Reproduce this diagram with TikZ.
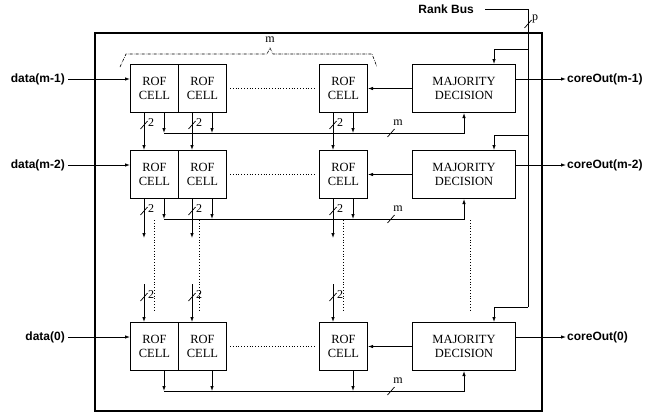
\documentclass[tikz,border=0pt]{standalone}
\usepackage{fontspec}
\setmainfont{Liberation Serif}
\newfontfamily\lsans{Liberation Sans}
\usetikzlibrary{arrows.meta,calc}
\begin{document}
\begin{tikzpicture}[x=1pt,y=-1pt,
  box/.style={draw,line width=1pt,inner sep=0,anchor=north west,align=center,font=\fontsize{12.5}{14}\selectfont},
  cellbox/.style={box,minimum width=48pt,minimum height=48pt},
  majbox/.style={box,minimum width=103pt,minimum height=48pt},
  io/.style={font=\lsans\bfseries\fontsize{12}{14}\selectfont,inner sep=0},
  wire/.style={line width=0.8pt},
  arr/.style={wire,-{Latex[length=5pt,width=3.5pt]}},
  dotline/.style={line width=0.6pt,dash pattern=on 0.6pt off 2.2pt},
  small/.style={font=\fontsize{12}{13}\selectfont,inner sep=0},
  slash/.style={line width=0.7pt},
]
\useasboundingbox (0,0) rectangle (647,415);
\draw[line width=1.8pt] (95,33) rectangle (542,411);

\foreach \r/\t/\lab/\out in {1/64/data(m-1)/coreOut(m-1), 2/150/data(m-2)/coreOut(m-2), 3/322/data(0)/coreOut(0)} {
  \node[cellbox] (ca\r) at (130,\t) {ROF\\CELL};
  \node[cellbox] (cb\r) at (178,\t) {ROF\\CELL};
  \node[cellbox] (cc\r) at (319,\t) {ROF\\CELL};
  \node[majbox] (md\r) at (412,\t) {MAJORITY\\DECISION};
  \node[io,anchor=east] (din\r) at (65,\t+15) {\lab};
  \node[io,anchor=west] (dout\r) at (567,\t+15) {\out};
  \draw[arr,shorten <=3pt] (din\r.east) -- (ca\r.west |- din\r.east);
  \draw[arr,shorten >=1pt] (md\r.east |- dout\r.west) -- (dout\r.west);
  \draw[arr] (md\r.west) -- (cc\r.east);
  \draw[dotline] ([xshift=3pt]cb\r.east) -- ([xshift=-3pt]cc\r.west);
  % outputs to the bus
  \coordinate (bus\r) at ($(ca\r.south west)+(34,20)$);
  \foreach \c in {ca,cb,cc} {
    \draw[arr] ([xshift=34pt]\c\r.south west) -- ++(0,20);
  }
  \draw[arr] (bus\r) -- (md\r.south |- bus\r) -- (md\r.south);
  \draw[slash] ($(bus\r)+(223.5,4)$) -- ++(7,-8);
  \node[small] (bm\r) at ($(bus\r)+(234,-10)$) {m};
  % rank bus branch
  \coordinate (br\r) at ($(md\r.north west)+(82,-15)$);
}

% vertical 2-bit links
\foreach \c in {ca,cb,cc} {
  \draw[arr] ([xshift=14pt]\c1.south west) -- ([xshift=14pt]\c2.north west);
  \draw[slash] ($(\c1.south west)+(10.5,16)$) -- ++(7,-8);
  \node[small] at ($(\c1.south west)+(21,10)$) {2};
  \draw[arr] ([xshift=14pt]\c2.south west) -- ++(0,39);
  \draw[slash] ($(\c2.south west)+(10.5,16)$) -- ++(7,-8);
  \node[small] at ($(\c2.south west)+(21,10)$) {2};
  \draw[arr] ($(\c3.north west)+(14,-38)$) -- ([xshift=14pt]\c3.north west);
  \draw[slash] ($(\c3.north west)+(10.5,-21)$) -- ++(7,-8);
  \node[small] at ($(\c3.north west)+(21,-27)$) {2};
}

% dotted continuation lines
\foreach \c/\dx in {ca/24,cb/21,cc/24,md/58} {
  \draw[dotline] ($(\c2.south west)+(\dx,21)$) -- ($(\c3.north west)+(\dx,-10)$);
}

% rank bus
\node[io,anchor=east] (rank) at (474,9) {Rank Bus};
\coordinate (rbk) at (528,9);
\draw[wire,shorten <=11pt] (rank.east) -- (rbk) -- (rbk |- br3);
\foreach \r in {1,2,3} {
  \draw[arr] (rbk |- br\r) -- (br\r) -- (br\r |- md\r.north);
}
\draw[slash] (524.5,28) -- ++(7,-8);
\node[small] (pl) at (535,19) {p};

% brace for m cells
\draw[line width=0.6pt,dash pattern=on 3pt off 1.2pt on 0.6pt off 1.2pt]
  (120,67) -- (126,54) -- (267,54) -- (270,48) -- (273,54) -- (372,54) -- (377,67);
\node[small] (mb) at (270,40) {m};
\end{tikzpicture}
\end{document}
